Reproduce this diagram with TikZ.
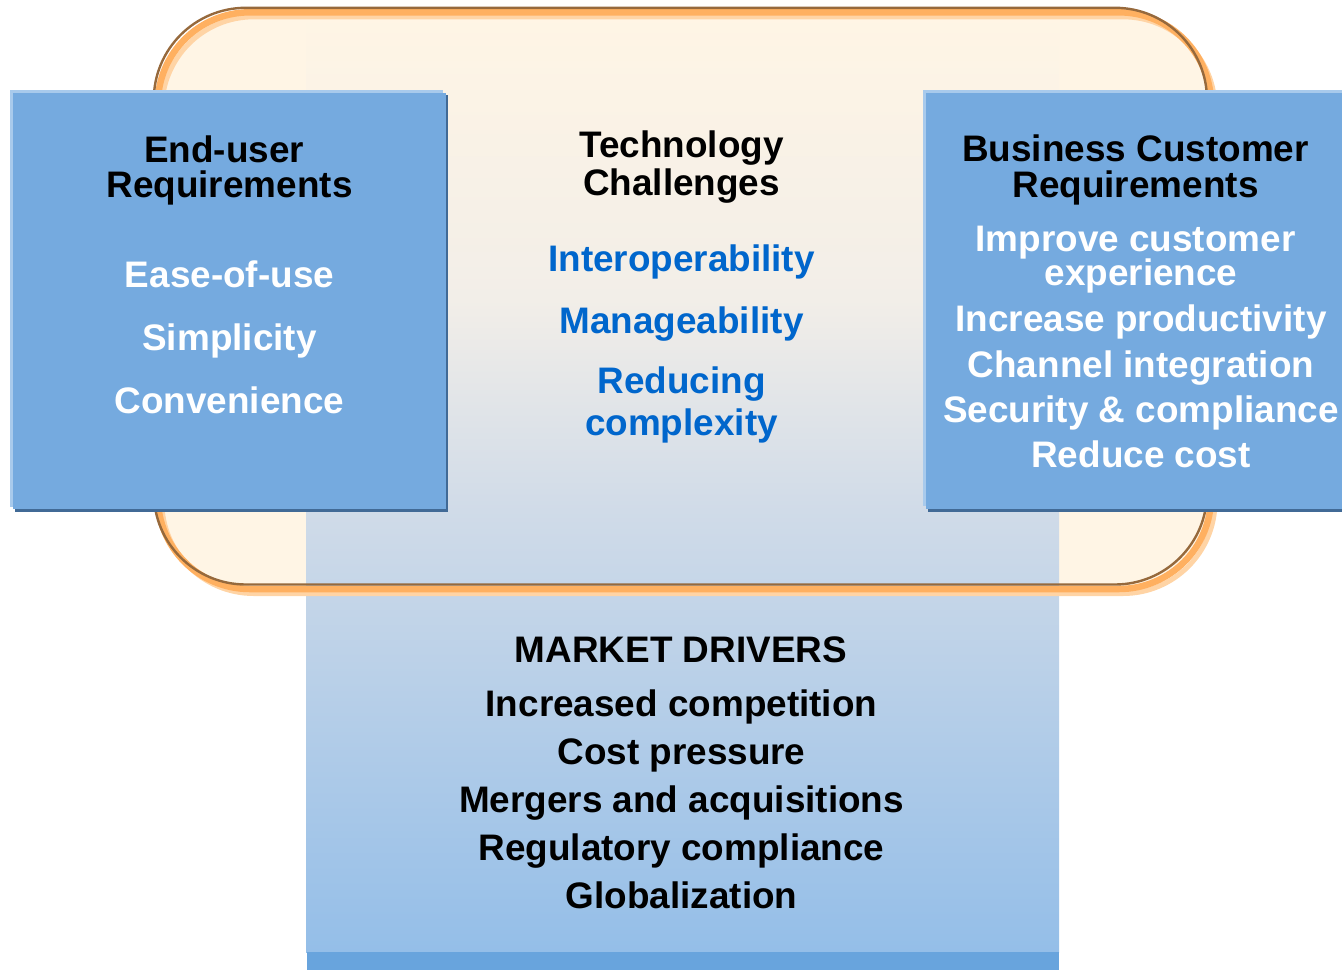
\documentclass[tikz,border=0pt]{standalone}
\usepackage{fontspec}
\setmainfont{Liberation Sans}
\definecolor{cream}{RGB}{255,245,229}
\definecolor{creamb}{RGB}{242,238,232}
\definecolor{orangeband}{RGB}{255,176,96}
\definecolor{brownline}{RGB}{150,105,60}
\definecolor{lightorange}{RGB}{255,212,165}
\definecolor{boxblue}{RGB}{117,170,223}
\definecolor{boxlight}{RGB}{168,202,236}
\definecolor{boxshadow}{RGB}{65,106,150}
\definecolor{midgray}{RGB}{208,219,232}
\definecolor{bottomblue}{RGB}{148,190,232}
\definecolor{stripblue}{RGB}{104,164,221}
\definecolor{techblue}{RGB}{0,102,204}
\pgfdeclareverticalshading{centershade}{100bp}{color(0bp)=(bottomblue); color(25bp)=(bottomblue); color(48.5bp)=(midgray); color(59.7bp)=(creamb); color(75bp)=(cream); color(100bp)=(cream)}
\begin{document}
\begin{tikzpicture}[x=1pt,y=-1pt,
  txt/.style={font=\fontsize{36.9}{40}\selectfont\bfseries, inner sep=0pt, anchor=base},
  ttl/.style={txt, text=black},
  wht/.style={txt, text=white},
  tch/.style={txt, text=techblue},
  frame/.style={rounded corners=92pt}]
\useasboundingbox (0,0) rectangle (1342,970);
% rounded background
\fill[cream, frame] (157.8,12.3) rectangle (1211,589);
% centre column
\shade[shading=centershade] (306,12) rectangle (1059,952);
\fill[stripblue] (307,952) rectangle (1059,970);
% border of rounded frame
\draw[lightorange, line width=5pt, frame] (161.8,16.8) rectangle (1215,593.5);
\draw[orangeband, line width=6.5pt, frame] (157.8,12.3) rectangle (1211,589);
\draw[brownline, line width=2.4pt, frame] (153.8,7.8) rectangle (1207,584.5);
% left box
\fill[boxshadow] (15,95) rectangle (448,512);
\fill[boxlight] (10,90) rectangle (443,507);
\fill[boxblue] (13,93) rectangle (446,509);
% right box
\fill[boxshadow] (928,95) rectangle (1350,512);
\fill[boxlight] (923,90) rectangle (1345,506);
\fill[boxblue] (925.5,92.7) rectangle (1345,509);
% left texts
\node[ttl] (eu1) at (224,162) {End-user};
\node[ttl] (eu2) at (229.5,197) {Requirements};
\node[wht] (eu3) at (229.5,287) {Ease-of-use};
\node[wht] (eu4) at (229.5,350) {Simplicity};
\node[wht] (eu5) at (229.5,413) {Convenience};
% centre texts
\node[ttl] (tc1) at (681.5,157) {Technology};
\node[ttl] (tc2) at (681.5,195) {Challenges};
\node[tch] (tc3) at (681.5,271) {Interoperability};
\node[tch] (tc4) at (681.5,333) {Manageability};
\node[tch] (tc5) at (681.5,393) {Reducing};
\node[tch] (tc6) at (681.5,435) {complexity};
% right texts
\node[ttl] (bc1) at (1135.5,161) {Business Customer};
\node[ttl] (bc2) at (1135.5,197) {Requirements};
\node[wht] (bc3) at (1135.5,251) {Improve customer};
\node[wht] (bc4) at (1141,285) {experience};
\node[wht] (bc5) at (1141,331) {Increase productivity};
\node[wht] (bc6) at (1141,377) {Channel integration};
\node[wht] (bc7) at (1141,422) {Security \& compliance};
\node[wht] (bc8) at (1141,467) {Reduce cost};
% market drivers
\node[ttl] (md1) at (681,662) {MARKET DRIVERS};
\node[ttl] (md2) at (681.5,716) {Increased competition};
\node[ttl] (md3) at (681.5,764) {Cost pressure};
\node[ttl] (md4) at (681.5,812) {Mergers and acquisitions};
\node[ttl] (md5) at (681.5,860) {Regulatory compliance};
\node[ttl] (md6) at (681.5,908) {Globalization};
\end{tikzpicture}
\end{document}
